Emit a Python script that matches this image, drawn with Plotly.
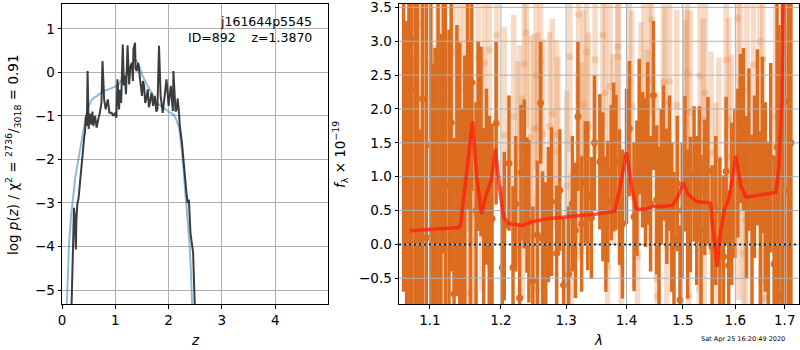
import plotly.graph_objects as go
import math

# ---------------- left panel data: log p(z) ----------------
z_pz = [0.18, 0.20, 0.225, 0.24, 0.25, 0.26, 0.27, 0.29, 0.31, 0.33, 0.35, 0.37, 0.40, 0.42, 0.43, 0.44,
        0.45, 0.46, 0.47, 0.48, 0.49, 0.50, 0.52, 0.53, 0.55, 0.57, 0.59, 0.62, 0.65, 0.68, 0.71, 0.74,
        0.76, 0.78, 0.79, 0.82, 0.86, 0.89, 0.93, 0.96, 0.99, 1.02, 1.04, 1.07, 1.09, 1.11, 1.14, 1.16,
        1.18, 1.20, 1.23, 1.26, 1.28, 1.31, 1.33, 1.34, 1.37, 1.38, 1.40, 1.43, 1.46, 1.48, 1.50, 1.52,
        1.54, 1.56, 1.58, 1.61, 1.63, 1.65, 1.68, 1.71, 1.74, 1.77, 1.79, 1.82, 1.85, 1.89, 1.93, 1.96,
        2.00, 2.04, 2.06, 2.08, 2.09, 2.11, 2.13, 2.15, 2.17, 2.19, 2.21, 2.25, 2.28, 2.31, 2.34, 2.36,
        2.38, 2.41, 2.44, 2.46, 2.49]
logp = [-5.32, -4.3, -3.11, -3.3, -3.53, -4.07, -3.4, -3.0, -2.9, -2.61, -2.35, -2.08, -1.62, -1.45, -1.39, -1.1,
        -1.0, -1.23, -0.9, 0.03, -0.5, -1.3, -0.95, -1.08, -1.2, -0.9, -1.23, -1.0, -1.27, -1.08, -0.93, -0.7,
        0.26, -0.3, -0.62, -0.85, -0.62, -0.93, -0.93, -1.0, -0.93, -1.04, -0.16, -0.85, -0.4, -0.7, 0.64, -0.3,
        -0.08, -0.5, 0.62, -0.28, 0.1, 0.22, -0.2, 0.53, 0.68, 0.1, 0.03, 0.22, -0.16, -0.3, -0.54, -0.2,
        -0.31, -0.7, -0.62, -0.39, -0.8, -0.70, -0.47, -0.77, -0.54, -0.9, -0.85, 0.61, -0.54, -0.93, -0.54, -0.16,
        -0.77, -0.31, -0.6, -0.89, 0.03, -0.5, -0.9, -0.85, -0.6, -0.85, -1.23, -1.62, -2.08, -2.53, -2.84, -3.0,
        -2.92, -3.69, -4.07, -4.15, -5.32]

z_prior = [0.09, 0.11, 0.13, 0.17, 0.20, 0.25, 0.30, 0.35, 0.40, 0.45, 0.50, 0.55, 0.60, 0.65, 0.70, 0.80,
           0.90, 1.00, 1.05, 1.10, 1.20, 1.30, 1.38, 1.45, 1.50, 1.60, 1.70, 1.80, 1.90, 2.00, 2.10, 2.15,
           2.20, 2.25, 2.30, 2.35, 2.39, 2.42, 2.44]
logp_prior = [-5.32, -4.5, -4.0, -3.3, -2.9, -2.4, -2.05, -1.7, -1.35, -1.0, -0.78, -0.65, -0.58, -0.55, -0.5, -0.42,
              -0.38, -0.32, -0.3, -0.2, -0.05, 0.18, 0.30, 0.15, -0.05, -0.3, -0.5, -0.72, -0.82, -0.9, -0.98, -1.1,
              -1.3, -1.8, -2.5, -3.2, -3.9, -4.6, -5.32]

# ---------------- right panel data: spectrum ----------------
lam_dark = [1.065, 1.069, 1.072, 1.075, 1.080, 1.083, 1.087, 1.090, 1.095, 1.101, 1.105, 1.107, 1.111, 1.115,
            1.118, 1.121, 1.126, 1.129, 1.133, 1.137, 1.141, 1.145, 1.148, 1.152, 1.156, 1.158, 1.164, 1.167,
            1.171, 1.175, 1.179, 1.183, 1.187, 1.193, 1.202, 1.205, 1.212, 1.218, 1.222, 1.228, 1.230, 1.235,
            1.239, 1.242, 1.248, 1.255, 1.260, 1.263, 1.268, 1.272, 1.277, 1.285, 1.290, 1.296, 1.304, 1.310,
            1.315, 1.319, 1.325, 1.331, 1.335, 1.341, 1.346, 1.355, 1.360, 1.365, 1.368, 1.374, 1.378, 1.382,
            1.388, 1.393, 1.400, 1.405, 1.413, 1.418, 1.422, 1.428, 1.433, 1.437, 1.442, 1.447, 1.453, 1.457,
            1.461, 1.465, 1.471, 1.476, 1.480, 1.484, 1.490, 1.495, 1.499, 1.504, 1.509, 1.514, 1.521, 1.526,
            1.531, 1.534, 1.541, 1.547, 1.555, 1.562, 1.570, 1.577, 1.582, 1.587, 1.593, 1.599, 1.605, 1.610,
            1.616, 1.622, 1.627, 1.633, 1.638, 1.644, 1.650, 1.654, 1.660, 1.666, 1.671, 1.678, 1.684, 1.688,
            1.695, 1.700, 1.708, 1.713]
flux_dark = [3.8, -1.2, -0.42, 3.02, 2.28, 0.90, -1.5, 2.15, 0.10, 1.47, -0.34, 0.30, 0.75, 0.31,
             2.27, 0.87, 0.87, 1.80, -0.73, 1.24, 0.78, 0.20, 0.89, 2.12, 1.00, 2.39, 0.50, 1.60,
             1.52, 0.22, 1.00, 0.50, 0.38, 1.79, -0.34, 0.27, 1.20, -0.34, 0.60, -0.79, 1.06, 1.04,
             0.58, 0.34, -0.54, 0.14, 2.09, 0.08, -0.18, 0.44, 0.63, -0.13, 0.80, -0.60, -0.44, 0.60,
             0.21, 1.89, 0.30, 0.92, 0.72, 0.39, 1.50, 1.22, 0.85, 0.30, 0.63, 1.06, 1.29, 1.21,
             0.70, 0.30, 1.30, 1.71, 0.41, 0.83, 1.74, 1.25, 1.06, 1.49, 0.60, 2.20, 0.66, 0.24,
             1.00, 1.35, 0.71, 1.20, 0.40, 0.07, 0.90, -0.82, 0.50, 1.19, 0.30, 0.59, 1.04, 0.50,
             1.04, 0.22, 0.84, 1.08, -0.03, 0.50, 0.08, -0.18, 1.08, -0.31, 0.60, 0.90, 1.20, 1.71,
             1.70, 0.70, 1.40, 0.32, 1.00, 1.58, 0.37, 1.47, 0.70, 0.12, 1.28, -0.29, 1.44, -0.76,
             1.00, 2.11, 0.80, 1.50]
err_dark = [4.5, 4.5, 4.2, 4.0, 3.6, 4.0, 3.2, 3.2, 3.5, 3.0, 3.0, 2.6, 3.0, 2.8,
            2.4, 2.8, 2.3, 2.2, 2.3, 2.0, 2.2, 1.8, 1.9, 1.6, 2.0, 1.6, 1.6, 1.4,
            1.4, 1.5, 1.3, 1.4, 1.4, 1.2, 1.2, 1.1, 1.0, 1.2, 1.0, 1.1, 1.0, 1.1,
            1.0, 1.2, 1.1, 1.1, 0.9, 1.0, 1.1, 1.0, 1.1, 1.0, 0.9, 1.0, 1.0, 1.0,
            1.0, 1.1, 1.0, 0.9, 1.1, 0.9, 1.0, 1.0, 1.1, 1.0, 0.9, 1.0, 1.1, 1.0,
            1.0, 1.1, 1.0, 1.0, 1.1, 1.0, 1.0, 1.0, 1.1, 1.2, 1.0, 1.1, 1.1, 1.2,
            1.0, 1.0, 1.0, 1.0, 1.1, 1.0, 1.0, 1.1, 1.0, 1.0, 1.1, 1.0, 1.0, 1.1,
            1.0, 1.1, 1.0, 1.1, 1.2, 1.1, 1.2, 1.2, 1.1, 1.1, 1.2, 1.1, 1.1, 1.1,
            1.2, 1.2, 1.2, 1.3, 1.2, 1.3, 1.3, 1.3, 1.4, 1.4, 1.4, 1.6, 2.5, 4.0,
            5.0, 5.0, 5.0, 5.0]

lam_light = [1.075, 1.082, 1.084, 1.086, 1.101, 1.106, 1.111, 1.133, 1.141, 1.148, 1.150, 1.155, 1.157, 1.159,
             1.167, 1.172, 1.176, 1.183, 1.185, 1.194, 1.205, 1.219, 1.225, 1.228, 1.232, 1.235, 1.238, 1.244,
             1.250, 1.253, 1.254, 1.256, 1.260, 1.264, 1.274, 1.278, 1.285, 1.287, 1.301, 1.306, 1.308, 1.319,
             1.320, 1.325, 1.328, 1.333, 1.336, 1.347, 1.360, 1.364, 1.368, 1.372, 1.377, 1.385, 1.386, 1.391,
             1.405, 1.409, 1.419, 1.425, 1.430, 1.436, 1.439, 1.444, 1.453, 1.454, 1.465, 1.468, 1.471, 1.476,
             1.489, 1.505, 1.506, 1.509, 1.511, 1.514, 1.531, 1.532, 1.538, 1.540, 1.542, 1.553, 1.562, 1.568,
             1.582, 1.587, 1.592, 1.605, 1.607, 1.610, 1.616, 1.620, 1.623, 1.636, 1.649, 1.652, 1.655, 1.658,
             1.681, 1.701]
flux_light = [0.28, -0.20, 2.73, 3.26, 2.69, 0.74, 1.66, 2.84, 2.29, 2.50, -0.72, 2.19, 0.07, 0.43,
              2.76, 1.11, 2.68, 2.87, -0.33, 3.09, 1.61, 1.89, 1.21, 1.44, 0.70, 2.66, 3.12, 1.58,
              1.71, 2.49, -0.67, 1.73, 2.70, 1.63, 1.74, 1.93, 1.62, 1.37, 0.87, 2.77, -0.35, 1.16,
              3.39, 1.29, 2.07, 2.84, 1.73, 2.73, 3.09, 2.24, -0.33, 2.33, 1.41, 2.92, 2.77, -0.28,
              2.41, 2.05, -0.18, 1.88, 2.16, 1.48, 2.42, 3.32, 0.85, -0.77, 2.40, 2.11, -0.04, 2.41,
              2.06, 1.81, 1.97, 2.52, -0.77, 1.95, -0.65, 2.49, 1.84, 0.06, 2.24, 1.35, 0.60, 1.26,
              2.72, 1.85, 1.30, 3.34, 0.68, 2.42, -0.13, 0.36, 2.26, 2.65, 3.00, -0.55, 2.73, -0.80,
              1.88, 0.80]
err_light = [2.5, 2.4, 2.5, 2.5, 2.2, 2.2, 2.2, 2.0, 2.0, 2.0, 2.0, 2.0, 1.9, 1.9,
             1.8, 1.8, 1.8, 1.7, 1.7, 1.7, 1.6, 1.5, 1.5, 1.5, 1.5, 1.4, 1.4, 1.5,
             1.4, 1.4, 1.4, 1.4, 1.4, 1.4, 1.4, 1.4, 1.4, 1.4, 1.4, 1.4, 1.4, 1.4,
             1.4, 1.4, 1.4, 1.4, 1.4, 1.4, 1.4, 1.4, 1.4, 1.4, 1.4, 1.4, 1.4, 1.4,
             1.4, 1.4, 1.4, 1.4, 1.4, 1.4, 1.4, 1.4, 1.4, 1.4, 1.4, 1.4, 1.4, 1.4,
             1.4, 1.5, 1.5, 1.5, 1.5, 1.5, 1.5, 1.5, 1.5, 1.5, 1.5, 1.5, 1.5, 1.5,
             1.5, 1.5, 1.5, 1.5, 1.5, 1.5, 1.5, 1.5, 1.5, 1.5, 1.5, 1.5, 1.5, 1.5,
             2.0, 2.5]

lam_model = [1.0733, 1.100, 1.139, 1.142, 1.148, 1.159, 1.165, 1.172, 1.179, 1.186, 1.192, 1.199, 1.204,
             1.211, 1.233, 1.244, 1.270, 1.296, 1.322, 1.350, 1.380, 1.389, 1.400, 1.409, 1.417, 1.434,
             1.446, 1.464, 1.482, 1.491, 1.501, 1.509, 1.518, 1.527, 1.546, 1.552, 1.555, 1.560, 1.565,
             1.569, 1.578, 1.588, 1.601, 1.611, 1.621, 1.641, 1.682, 1.688, 1.694, 1.697]
flux_model = [0.20, 0.22, 0.25, 0.28, 0.85, 1.82, 1.0, 0.45, 0.75, 0.95, 1.41, 0.75, 0.41,
              0.31, 0.28, 0.33, 0.38, 0.40, 0.43, 0.45, 0.49, 0.85, 1.36, 0.85, 0.52, 0.52,
              0.56, 0.56, 0.58, 0.70, 0.91, 0.75, 0.68, 0.63, 0.62, 0.60, 0.36, 0.01, -0.33,
              0.06, 0.50, 0.70, 1.31, 0.85, 0.70, 0.72, 0.77, 1.14, 2.12, 3.8]

# tick definitions
z_ticks = [0, 1, 2, 3, 4]
lp_ticks = [-5, -4, -3, -2, -1, 0, 1]
lam_ticks = [1.1, 1.2, 1.3, 1.4, 1.5, 1.6, 1.7]
lam_ticktext = ["1.1", "1.2", "1.3", "1.4", "1.5", "1.6", "1.7"]
flux_ticks = [-0.5, 0.0, 0.5, 1.0, 1.5, 2.0, 2.5, 3.0, 3.5]

# axis limits
z_range = [0, 4.99]
lp_range = [-5.32, 1.57]
lam_lo, lam_hi = 1.059, 1.730
flux_range = [-0.88, 3.55]

W, H = 800, 350
FONT = "DejaVu Sans"
DARK_OR = "rgb(219,108,32)"
LIGHT_OR = "rgba(228,135,70,0.30)"
GRID = "#b0b0b0"

fig = go.Figure()

# ---- left panel ----
fig.add_trace(go.Scatter(x=z_prior, y=logp_prior, mode="lines",
                         line=dict(color="rgba(31,119,180,0.5)", width=2),
                         xaxis="x", yaxis="y", showlegend=False, hoverinfo="skip"))
fig.add_trace(go.Scatter(x=z_pz, y=logp, mode="lines",
                         line=dict(color="rgba(40,40,40,0.9)", width=2),
                         xaxis="x", yaxis="y", showlegend=False, hoverinfo="skip"))

# ---- right panel ----
fig.add_trace(go.Scatter(x=lam_light, y=flux_light, mode="markers",
                         marker=dict(color=LIGHT_OR, size=7),
                         error_y=dict(type="data", array=err_light, thickness=5.5, width=0, color=LIGHT_OR),
                         xaxis="x2", yaxis="y2", showlegend=False, hoverinfo="skip"))
fig.add_trace(go.Scatter(x=lam_dark, y=flux_dark, mode="markers",
                         marker=dict(color=DARK_OR, size=7),
                         error_y=dict(type="data", array=err_dark, thickness=3.5, width=0, color=DARK_OR),
                         xaxis="x2", yaxis="y2", showlegend=False, hoverinfo="skip"))

# grid lines for the right panel drawn above the error bars (derived from tick lists)
gx, gy = [], []
for t in lam_ticks:
    gx += [t, t, None]
    gy += [flux_range[0], flux_range[1], None]
for t in flux_ticks:
    gx += [lam_lo, lam_hi, None]
    gy += [t, t, None]
fig.add_trace(go.Scatter(x=gx, y=gy, mode="lines", line=dict(color=GRID, width=1),
                         xaxis="x2", yaxis="y2", showlegend=False, hoverinfo="skip"))

fig.add_trace(go.Scatter(x=lam_model, y=flux_model, mode="lines",
                         line=dict(color="rgba(255,30,10,0.75)", width=3.5),
                         xaxis="x2", yaxis="y2", showlegend=False, hoverinfo="skip"))
fig.add_trace(go.Scatter(x=[lam_lo, lam_hi], y=[0, 0], mode="lines",
                         line=dict(color="rgba(20,20,20,0.9)", width=2, dash="2px,3px"),
                         xaxis="x2", yaxis="y2", showlegend=False, hoverinfo="skip"))

ax_common = dict(showline=True, linecolor="black", linewidth=1, mirror=True,
                 ticks="outside", ticklen=3.5, tickwidth=1, tickcolor="black",
                 tickfont=dict(family=FONT, size=13.5, color="black"), zeroline=False,
                 automargin=False, ticklabeloverflow="allow")

y_dom = [(H - 304) / H, (H - 4) / H]
fig.update_layout(
    width=W, height=H, margin=dict(l=0, r=0, t=0, b=0),
    paper_bgcolor="white", plot_bgcolor="white",
    font=dict(family=FONT, color="black"),
    xaxis=dict(domain=[62 / W, 328 / W], range=z_range, tickvals=z_ticks,
               showgrid=True, gridcolor=GRID, gridwidth=1, anchor="y", **ax_common),
    yaxis=dict(domain=y_dom, range=lp_range, tickvals=lp_ticks,
               showgrid=True, gridcolor=GRID, gridwidth=1, anchor="x", **ax_common),
    xaxis2=dict(domain=[399 / W, 799 / W], type="log",
                range=[math.log10(lam_lo), math.log10(lam_hi)],
                tickvals=lam_ticks, ticktext=lam_ticktext, showgrid=False, anchor="y2", **ax_common),
    yaxis2=dict(domain=y_dom, range=flux_range, tickvals=flux_ticks, tickformat=".1f",
                showgrid=False, anchor="x2", **ax_common),
)

def px(x, y):
    return x / W, 1 - y / H

ann = []
x0, y0 = px(314, 21)
ann.append(dict(x=x0, y=y0, text="j161644p5545", xanchor="right", yanchor="middle",
                font=dict(size=12.5)))
x0, y0 = px(314, 37)
ann.append(dict(x=x0, y=y0, text="ID=892\u00a0\u00a0\u00a0\u00a0z=1.3870", xanchor="right", yanchor="middle",
                font=dict(size=12.5)))
x0, y0 = px(13, 155)
ann.append(dict(x=x0, y=y0, textangle=-90,
                text="log <i>p</i>(<i>z</i>) / χ<sup>2</sup> = <sup>2736</sup>/<sub>3018</sub> = 0.91",
                xanchor="center", yanchor="middle", font=dict(size=13.5)))
x0, y0 = px(340, 155)
ann.append(dict(x=x0, y=y0, textangle=-90,
                text="<i>f</i><sub>λ</sub> × 10<sup>−19</sup>",
                xanchor="center", yanchor="middle", font=dict(size=13.5)))
x0, y0 = px(195, 340)
ann.append(dict(x=x0, y=y0, text="<i>z</i>", xanchor="center", yanchor="middle", font=dict(size=13.5)))
x0, y0 = px(598, 340)
ann.append(dict(x=x0, y=y0, text="<i>λ</i>", xanchor="center", yanchor="middle", font=dict(size=13.5)))
x0, y0 = px(743, 339)
ann.append(dict(x=x0, y=y0, text="Sat Apr 25 16:20:49 2020", xanchor="center", yanchor="middle",
                font=dict(size=6.5)))
for a in ann:
    a.update(xref="paper", yref="paper", showarrow=False)
    a["font"].update(family=FONT, color="black")
fig.update_layout(annotations=ann)

fig.write_html("out.html")
